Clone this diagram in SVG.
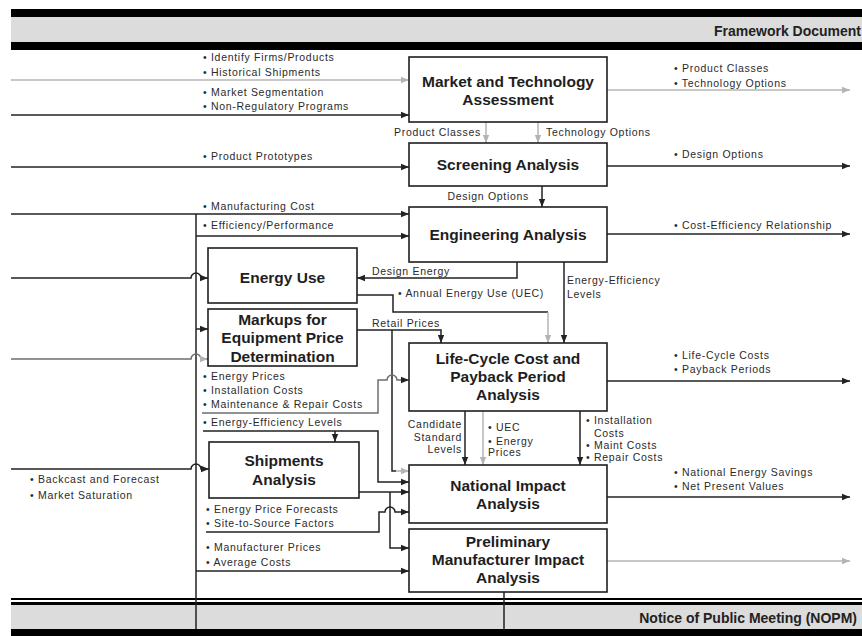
<svg xmlns="http://www.w3.org/2000/svg" width="862" height="636" viewBox="0 0 862 636">
<style>
.box{fill:#fff;stroke:#1e1e1e;stroke-width:1.6}
.t{font-family:"Liberation Sans",Arial,sans-serif;font-weight:bold;font-size:15.5px;fill:#1e1e1e;text-anchor:middle}
.h{font-family:"Liberation Sans",Arial,sans-serif;font-weight:bold;font-size:14px;fill:#222}
.l{font-family:"Liberation Sans",Arial,sans-serif;font-size:10.5px;letter-spacing:0.7px;fill:#2a2a2a}
.e{text-anchor:end}
.c{fill:none;stroke:#222;stroke-width:1.5}
.g{fill:none;stroke:#b4b4b4;stroke-width:1.5}
.m{fill:none;stroke:#6e6e6e;stroke-width:1.5}
</style>
<defs>
<marker id="ad" viewBox="0 0 8 8" refX="8" refY="4" markerWidth="8" markerHeight="8" markerUnits="userSpaceOnUse" orient="auto"><path d="M0,0.8 L8,4 L0,7.2 z" fill="#222"/></marker>
<marker id="ag" viewBox="0 0 8 8" refX="8" refY="4" markerWidth="8" markerHeight="8" markerUnits="userSpaceOnUse" orient="auto"><path d="M0,0.8 L8,4 L0,7.2 z" fill="#b4b4b4"/></marker>
</defs>
<rect width="862" height="636" fill="#fff"/>
<g id="bands">
<rect x="11" y="9" width="851" height="8" fill="#000"/>
<rect x="11" y="17" width="851" height="25" fill="#dcdcdc"/>
<rect x="11" y="42" width="851" height="8" fill="#000"/>
<text class="h" x="714" y="36">Framework Document</text>
<rect x="11" y="598" width="851" height="2" fill="#000"/>
<rect x="11" y="602" width="851" height="3" fill="#000"/>
<rect x="11" y="605" width="851" height="24" fill="#dcdcdc"/>
<rect x="11" y="629" width="851" height="7" fill="#000"/>
<text class="h e" x="857" y="623" text-anchor="end">Notice of Public Meeting (NOPM)</text>
</g>
<g id="connectors">
<path class="g" d="M11,80 H409" marker-end="url(#ag)"/>
<path class="c" d="M11,115 H409" marker-end="url(#ad)"/>
<path class="c" d="M11,167 H409" marker-end="url(#ad)"/>
<path class="c" d="M11,214 H409" marker-end="url(#ad)"/>
<path class="c" d="M196,236 H409" marker-end="url(#ad)"/>
<path class="c" d="M196,214 V629"/>
<path class="c" d="M11,278 H191 a5,5 0 0 1 10,0 H208" marker-end="url(#ad)"/>
<path class="c" d="M196,329 H208" marker-end="url(#ad)"/>
<path class="m" d="M11,359 H191 a5,5 0 0 1 10,0 H208" marker-end="url(#ag)"/>
<path class="c" d="M11,469 H191 a5,5 0 0 1 10,0 H209" marker-end="url(#ad)"/>
<path class="c" d="M517,262 V278 H357" marker-end="url(#ad)"/>
<path class="c" d="M357,295 H393 V312 H548"/>
<path class="g" d="M548,312 V343" marker-end="url(#ag)"/>
<path class="c" d="M357,330 H441 V343" marker-end="url(#ad)"/>
<path class="c" d="M392,330 V471 H396"/>
<path class="g" d="M396,471 H409" marker-end="url(#ag)"/>
<path class="m" d="M202,413 H378 V380 H387 a5,5 0 0 1 10,0 H409" marker-end="url(#ad)"/>
<path class="c" d="M203,431 H378 V482 H409" marker-end="url(#ad)"/>
<path class="c" d="M335,431 V442" marker-end="url(#ad)"/>
<path class="c" d="M359,492 H409" marker-end="url(#ad)"/>
<path class="c" d="M390,492 V548 H409" marker-end="url(#ad)"/>
<path class="c" d="M206,532 H379 V512 H385 a5,5 0 0 1 10,0 H409" marker-end="url(#ad)"/>
<path class="c" d="M196,571 H409" marker-end="url(#ad)"/>
<path class="g" d="M486,122 V143" marker-end="url(#ag)"/>
<path class="g" d="M538,122 V143" marker-end="url(#ag)"/>
<path class="c" d="M542,186 V207" marker-end="url(#ad)"/>
<path class="c" d="M564,262 V343" marker-end="url(#ad)"/>
<path class="c" d="M465,411 V465" marker-end="url(#ad)"/>
<path class="g" d="M483,411 V465" marker-end="url(#ag)"/>
<path class="c" d="M580,411 V465" marker-end="url(#ad)"/>
<path class="g" d="M607,90 H850" marker-end="url(#ag)"/>
<path class="c" d="M607,166 H850" marker-end="url(#ad)"/>
<path class="c" d="M607,234 H850" marker-end="url(#ad)"/>
<path class="c" d="M607,381 H850" marker-end="url(#ad)"/>
<path class="c" d="M607,497 H850" marker-end="url(#ad)"/>
<path class="g" d="M607,561 H850" marker-end="url(#ag)"/>
<path class="c" d="M504,592 V629"/>
</g>
<g id="labels">
<text class="l" x="203" y="61">• Identify Firms/Products</text>
<text class="l" x="203" y="76">• Historical Shipments</text>
<text class="l" x="203" y="96">• Market Segmentation</text>
<text class="l" x="203" y="110">• Non-Regulatory Programs</text>
<text class="l" x="203" y="160">• Product Prototypes</text>
<text class="l" x="203" y="210">• Manufacturing Cost</text>
<text class="l" x="203" y="229">• Efficiency/Performance</text>
<text class="l" x="203" y="380">• Energy Prices</text>
<text class="l" x="203" y="394">• Installation Costs</text>
<text class="l" x="203" y="408">• Maintenance &amp; Repair Costs</text>
<text class="l" x="203" y="426">• Energy-Efficiency Levels</text>
<text class="l" x="30" y="483">• Backcast and Forecast</text>
<text class="l" x="30" y="499">• Market Saturation</text>
<text class="l" x="206" y="513">• Energy Price Forecasts</text>
<text class="l" x="206" y="527">• Site-to-Source Factors</text>
<text class="l" x="206" y="551">• Manufacturer Prices</text>
<text class="l" x="206" y="566">• Average Costs</text>
<text class="l" x="674" y="72">• Product Classes</text>
<text class="l" x="674" y="87">• Technology Options</text>
<text class="l" x="674" y="158">• Design Options</text>
<text class="l" x="674" y="229">• Cost-Efficiency Relationship</text>
<text class="l" x="674" y="359">• Life-Cycle Costs</text>
<text class="l" x="674" y="373">• Payback Periods</text>
<text class="l" x="674" y="476">• National Energy Savings</text>
<text class="l" x="674" y="490">• Net Present Values</text>
<text class="l e" x="481" y="136">Product Classes</text>
<text class="l" x="546" y="136">Technology Options</text>
<text class="l e" x="529" y="200">Design Options</text>
<text class="l" x="372" y="275">Design Energy</text>
<text class="l" x="398" y="297">• Annual Energy Use (UEC)</text>
<text class="l" x="567" y="284">Energy-Efficiency</text>
<text class="l" x="567" y="298">Levels</text>
<text class="l" x="372" y="327">Retail Prices</text>
<text class="l e" x="462" y="428">Candidate</text>
<text class="l e" x="462" y="441">Standard</text>
<text class="l e" x="462" y="453">Levels</text>
<text class="l" x="488" y="431">• UEC</text>
<text class="l" x="488" y="445">• Energy</text>
<text class="l" x="488" y="456">Prices</text>
<text class="l" x="586" y="424">• Installation</text>
<text class="l" x="594" y="437">Costs</text>
<text class="l" x="586" y="449">• Maint Costs</text>
<text class="l" x="586" y="461">• Repair Costs</text>
</g>
<g id="market-technology">
<rect class="box" x="409" y="57" width="198" height="65"/>
<text class="t" x="508" y="87">Market and Technology</text>
<text class="t" x="508" y="105">Assessment</text>
</g>
<g id="screening">
<rect class="box" x="409" y="143" width="198" height="43"/>
<text class="t" x="508" y="170">Screening Analysis</text>
</g>
<g id="engineering">
<rect class="box" x="409" y="207" width="198" height="55"/>
<text class="t" x="508" y="240">Engineering Analysis</text>
</g>
<g id="energy-use">
<rect class="box" x="208" y="248" width="149" height="55"/>
<text class="t" x="282.5" y="283">Energy Use</text>
</g>
<g id="markups">
<rect class="box" x="208" y="309" width="149" height="57"/>
<text class="t" x="282.5" y="325">Markups for</text>
<text class="t" x="282.5" y="343">Equipment Price</text>
<text class="t" x="282.5" y="362">Determination</text>
</g>
<g id="lcc">
<rect class="box" x="409" y="343" width="198" height="68"/>
<text class="t" x="508" y="364">Life-Cycle Cost and</text>
<text class="t" x="508" y="382">Payback Period</text>
<text class="t" x="508" y="400">Analysis</text>
</g>
<g id="shipments">
<rect class="box" x="209" y="442" width="150" height="56"/>
<text class="t" x="284" y="466">Shipments</text>
<text class="t" x="284" y="485">Analysis</text>
</g>
<g id="national-impact">
<rect class="box" x="409" y="465" width="198" height="58"/>
<text class="t" x="508" y="491">National Impact</text>
<text class="t" x="508" y="509">Analysis</text>
</g>
<g id="manufacturer-impact">
<rect class="box" x="409" y="529" width="198" height="63"/>
<text class="t" x="508" y="547">Preliminary</text>
<text class="t" x="508" y="565">Manufacturer Impact</text>
<text class="t" x="508" y="583">Analysis</text>
</g>
</svg>
